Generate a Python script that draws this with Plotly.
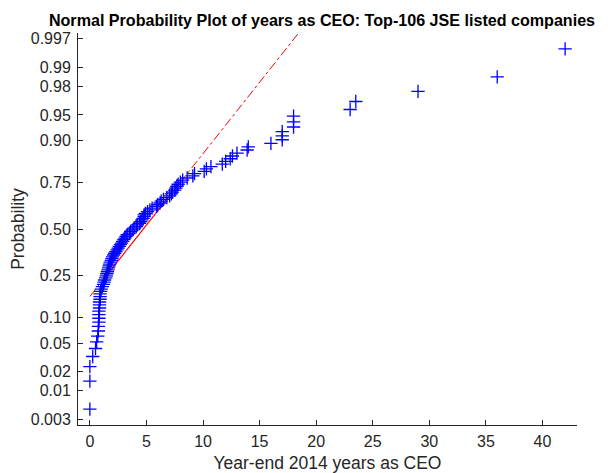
import plotly.graph_objects as go
from statistics import NormalDist

# Sorted years as CEO (year-end 2014), 106 companies
years_as_ceo = [
    0, 0, 0, 0.25, 0.5, 0.6,
    0.7, 0.75, 0.75, 0.8, 0.8, 0.8, 0.8, 0.85, 0.85, 0.85, 0.9, 0.9, 0.9, 0.95,
    1.0, 1.1, 1.2, 1.25, 1.3, 1.4, 1.45, 1.5, 1.55, 1.6, 1.65, 1.7, 1.75, 1.8,
    1.9, 1.95, 2.0, 2.1, 2.2, 2.3, 2.4, 2.5, 2.6, 2.7, 2.8, 2.9, 3.0, 3.1, 3.2, 3.3,
    3.5, 3.6, 3.8, 3.9, 4.1, 4.2, 4.4, 4.5, 4.6, 4.7, 4.8, 4.8, 4.9, 5.1, 5.3, 5.5,
    5.9, 6.0, 6.2, 6.3, 6.5, 6.8, 7.05, 7.2, 7.3, 7.5, 7.6, 7.7, 7.8, 8.0, 8.2, 8.6, 9.1, 9.25,
    10.1, 10.3, 10.7, 11.7, 12.0, 12.4, 12.6, 13.0, 13.9, 14.0,
    16, 17, 17, 17, 18, 18, 18, 23, 23.5, 29, 36, 42,
]

prob_ticks = [0.003, 0.01, 0.02, 0.05, 0.10, 0.25, 0.50, 0.75, 0.90, 0.95, 0.98, 0.99, 0.997]
prob_labels = ["0.003", "0.01", "0.02", "0.05", "0.10", "0.25", "0.50", "0.75",
               "0.90", "0.95", "0.98", "0.99", "0.997"]

nd = NormalDist()
x = sorted(years_as_ceo)
n = len(x)
probs = [(i + 0.5) / n for i in range(n)]
z = [nd.inv_cdf(p) for p in probs]

# Reference line through 1st and 3rd quartiles (MATLAB prctile convention)
q1 = x[int(round(n * 0.25 + 0.5)) - 1]
q3 = x[int(round(n * 0.75 + 0.5)) - 1]
z1, z3 = nd.inv_cdf(0.25), nd.inv_cdf(0.75)
slope = (z3 - z1) / (q3 - q1)
def line_z(v):
    return z1 + (v - q1) * slope

red = "rgb(255,0,0)"
fig = go.Figure()
fig.add_trace(go.Scatter(x=[x[0], q1], y=[line_z(x[0]), line_z(q1)], mode="lines",
                         line=dict(color=red, width=1, dash="dashdot"), showlegend=False))
fig.add_trace(go.Scatter(x=[q1, q3], y=[line_z(q1), line_z(q3)], mode="lines",
                         line=dict(color=red, width=1.2), showlegend=False))
fig.add_trace(go.Scatter(x=[q3, x[-1]], y=[line_z(q3), line_z(x[-1])], mode="lines",
                         line=dict(color=red, width=1, dash="dashdot"), showlegend=False))
fig.add_trace(go.Scatter(x=x, y=z, mode="markers",
                         marker=dict(symbol="cross-thin", size=9.5,
                                     line=dict(color="rgb(0,0,255)", width=1.3)),
                         showlegend=False))

xr = x[-1] - x[0]
axcol = "#262626"
W, H = 600, 465  # page body has an 8px margin in the 608x473 window
fig.update_layout(
    width=W, height=H,
    margin=dict(l=70, r=31, t=25, b=48),
    paper_bgcolor="white", plot_bgcolor="white",
    font=dict(family="Liberation Sans, Arial, sans-serif", size=16, color=axcol),
    title=dict(text="<b>Normal Probability Plot of years as CEO: Top-106 JSE listed companies</b>",
               x=314 / W, xanchor="center", y=1 - 12 / H, yanchor="middle",
               font=dict(size=16.1, color="black")),
    xaxis=dict(range=[x[0] - 0.025 * xr, x[-1] + 0.025 * xr], dtick=5, tick0=0,
               ticks="inside", ticklen=5, tickcolor=axcol, showline=True, linecolor=axcol,
               linewidth=1, showgrid=False, zeroline=False, automargin=False,
               ticklabelstandoff=2,
               title=dict(text="Year-end 2014 years as CEO", standoff=13, font=dict(size=17.5))),
    yaxis=dict(range=[nd.inv_cdf(0.25 / n), nd.inv_cdf(1 - 0.25 / n)],
               tickvals=[nd.inv_cdf(p) for p in prob_ticks], ticktext=prob_labels,
               ticks="inside", ticklen=5, tickcolor=axcol, showline=True, linecolor=axcol,
               linewidth=1, showgrid=False, zeroline=False, automargin=False,
               ticklabelstandoff=3,
               title=dict(text="Probability", standoff=7, font=dict(size=17.5))),
)

fig.write_html("out.html")
